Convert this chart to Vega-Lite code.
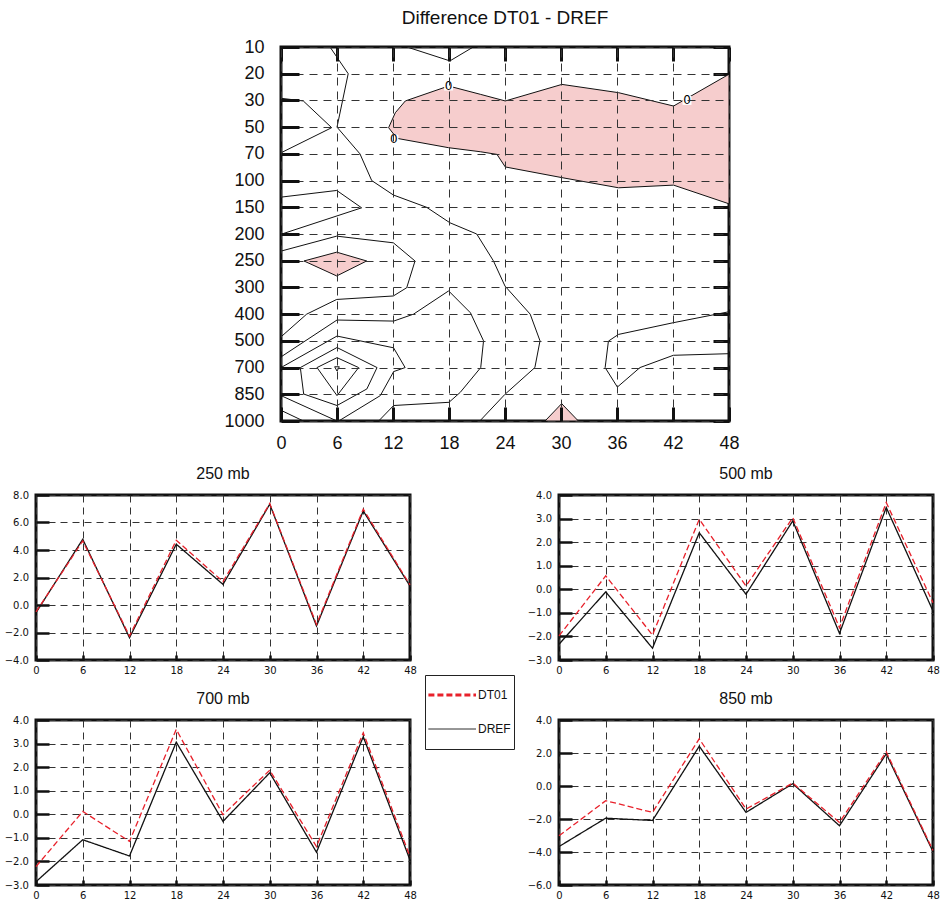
{
  "$schema": "https://vega.github.io/schema/vega-lite/v6.json",
  "background": "white",
  "padding": {"left": 2, "top": 7, "right": 5, "bottom": 5},
  "spacing": 10,
  "config": {
    "font": "Liberation Sans",
    "view": {"stroke": "#111", "strokeWidth": 3},
    "axis": {"domain": false, "labelColor": "#111", "tickColor": "#111", "labelFont": "Liberation Sans"},
    "title": {"font": "Liberation Sans", "fontWeight": "normal", "color": "#111"}
  },
  "datasets": {
    "contours": [
      {"c": "A", "o": 0, "h": 5.25, "p": 0}, {"c": "A", "o": 1, "h": 7.2, "p": 1.0}, {"c": "A", "o": 2, "h": 6.0, "p": 3.0}, {"c": "A", "o": 3, "h": 8.46, "p": 4.0}, {"c": "A", "o": 4, "h": 9.72, "p": 5.0}, {"c": "A", "o": 5, "h": 12.04, "p": 5.54}, {"c": "A", "o": 6, "h": 15.6, "p": 6.0}, {"c": "A", "o": 7, "h": 18.1, "p": 6.58}, {"c": "A", "o": 8, "h": 20.97, "p": 7.0}, {"c": "A", "o": 9, "h": 22.75, "p": 8.0}, {"c": "A", "o": 10, "h": 24.0, "p": 8.95}, {"c": "A", "o": 11, "h": 26.7, "p": 10.0}, {"c": "A", "o": 12, "h": 27.75, "p": 11.0}, {"c": "A", "o": 13, "h": 27.2, "p": 12.0}, {"c": "A", "o": 14, "h": 24.0, "p": 13.0}, {"c": "A", "o": 15, "h": 21.3, "p": 14.0},
      {"c": "B", "o": 0, "h": 13.5, "p": 0}, {"c": "B", "o": 1, "h": 18.1, "p": 0.52}, {"c": "B", "o": 2, "h": 20.6, "p": 0},
      {"c": "C", "o": 0, "h": 0, "p": 1.92}, {"c": "C", "o": 1, "h": 2.39, "p": 2.02}, {"c": "C", "o": 2, "h": 5.43, "p": 3.02}, {"c": "C", "o": 3, "h": 0, "p": 3.96},
      {"c": "D", "o": 0, "h": 0, "p": 5.62}, {"c": "D", "o": 1, "h": 5.97, "p": 5.37}, {"c": "D", "o": 2, "h": 8.64, "p": 6.02}, {"c": "D", "o": 3, "h": 0, "p": 7.01},
      {"c": "E", "o": 0, "h": 0, "p": 7.64}, {"c": "E", "o": 1, "h": 5.97, "p": 7.08}, {"c": "E", "o": 2, "h": 12.04, "p": 7.33}, {"c": "E", "o": 3, "h": 14.36, "p": 8.01}, {"c": "E", "o": 4, "h": 13.47, "p": 9.01}, {"c": "E", "o": 5, "h": 12.04, "p": 9.32}, {"c": "E", "o": 6, "h": 5.97, "p": 9.45}, {"c": "E", "o": 7, "h": 2.75, "p": 10.0}, {"c": "E", "o": 8, "h": 0, "p": 10.85},
      {"c": "F", "o": 0, "h": 0, "p": 11.6}, {"c": "F", "o": 1, "h": 6.0, "p": 10.22}, {"c": "F", "o": 2, "h": 12.07, "p": 10.26}, {"c": "F", "o": 3, "h": 14.2, "p": 10.0}, {"c": "F", "o": 4, "h": 17.96, "p": 9.13}, {"c": "F", "o": 5, "h": 20.3, "p": 9.95}, {"c": "F", "o": 6, "h": 21.7, "p": 11.0}, {"c": "F", "o": 7, "h": 21.4, "p": 12.0}, {"c": "F", "o": 8, "h": 19.2, "p": 12.93}, {"c": "F", "o": 9, "h": 18.0, "p": 13.3}, {"c": "F", "o": 10, "h": 12.07, "p": 13.42}, {"c": "F", "o": 11, "h": 10.46, "p": 14.0},
      {"c": "G", "o": 0, "h": 0, "p": 12.0}, {"c": "G", "o": 1, "h": 6.0, "p": 10.82}, {"c": "G", "o": 2, "h": 12.06, "p": 11.26}, {"c": "G", "o": 3, "h": 13.3, "p": 12.0}, {"c": "G", "o": 4, "h": 12.07, "p": 12.15}, {"c": "G", "o": 5, "h": 10.64, "p": 13.05}, {"c": "G", "o": 6, "h": 6.18, "p": 14.0},
      {"c": "R3", "o": 0, "h": 2.07, "p": 12.0}, {"c": "R3", "o": 1, "h": 6.0, "p": 11.25}, {"c": "R3", "o": 2, "h": 10.29, "p": 12.0}, {"c": "R3", "o": 3, "h": 9.2, "p": 12.8}, {"c": "R3", "o": 4, "h": 6.0, "p": 13.42}, {"c": "R3", "o": 5, "h": 2.43, "p": 12.99}, {"c": "R3", "o": 6, "h": 2.07, "p": 12.0},
      {"c": "S", "o": 0, "h": 0, "p": 12.0}, {"c": "S", "o": 1, "h": 2.07, "p": 12.0},
      {"c": "R2", "o": 0, "h": 3.86, "p": 12.0}, {"c": "R2", "o": 1, "h": 6.0, "p": 11.63}, {"c": "R2", "o": 2, "h": 8.32, "p": 12.0}, {"c": "R2", "o": 3, "h": 6.0, "p": 13.05}, {"c": "R2", "o": 4, "h": 3.86, "p": 12.0},
      {"c": "R1", "o": 0, "h": 5.75, "p": 11.97}, {"c": "R1", "o": 1, "h": 6.25, "p": 11.97}, {"c": "R1", "o": 2, "h": 6.0, "p": 12.13}, {"c": "R1", "o": 3, "h": 5.75, "p": 11.97},
      {"c": "H1", "o": 0, "h": 0, "p": 13.05}, {"c": "H1", "o": 1, "h": 6.0, "p": 14.0},
      {"c": "H2", "o": 0, "h": 0, "p": 13.6}, {"c": "H2", "o": 1, "h": 2.4, "p": 14.0},
      {"c": "I", "o": 0, "h": 48, "p": 9.91}, {"c": "I", "o": 1, "h": 42.04, "p": 10.32}, {"c": "I", "o": 2, "h": 36.15, "p": 10.76}, {"c": "I", "o": 3, "h": 35.08, "p": 11.01}, {"c": "I", "o": 4, "h": 34.73, "p": 12.0}, {"c": "I", "o": 5, "h": 36.04, "p": 12.73}, {"c": "I", "o": 6, "h": 38.46, "p": 12.0}, {"c": "I", "o": 7, "h": 42.04, "p": 11.54}, {"c": "I", "o": 8, "h": 48, "p": 11.48}
    ],
    "fills": [
      {"c": "P1", "o": 0, "h": 11.53, "p": 3.02}, {"c": "P1", "o": 1, "h": 12.25, "p": 2.46}, {"c": "P1", "o": 2, "h": 13.32, "p": 2.02}, {"c": "P1", "o": 3, "h": 17.96, "p": 1.46}, {"c": "P1", "o": 4, "h": 21.35, "p": 1.77}, {"c": "P1", "o": 5, "h": 24.03, "p": 2.02}, {"c": "P1", "o": 6, "h": 30.1, "p": 1.4}, {"c": "P1", "o": 7, "h": 36.17, "p": 1.71}, {"c": "P1", "o": 8, "h": 42.06, "p": 2.21}, {"c": "P1", "o": 9, "h": 48, "p": 1.02}, {"c": "P1", "o": 10, "h": 48, "p": 5.87}, {"c": "P1", "o": 11, "h": 42.06, "p": 5.17}, {"c": "P1", "o": 12, "h": 36.17, "p": 5.27}, {"c": "P1", "o": 13, "h": 30.1, "p": 4.89}, {"c": "P1", "o": 14, "h": 24.03, "p": 4.49}, {"c": "P1", "o": 15, "h": 23.14, "p": 4.02}, {"c": "P1", "o": 16, "h": 21.35, "p": 3.92}, {"c": "P1", "o": 17, "h": 17.96, "p": 3.77}, {"c": "P1", "o": 18, "h": 12.43, "p": 3.42}, {"c": "P1", "o": 19, "h": 11.53, "p": 3.02},
      {"c": "P2", "o": 0, "h": 2.46, "p": 8.01}, {"c": "P2", "o": 1, "h": 5.97, "p": 7.68}, {"c": "P2", "o": 2, "h": 9.18, "p": 8.01}, {"c": "P2", "o": 3, "h": 5.97, "p": 8.57}, {"c": "P2", "o": 4, "h": 2.46, "p": 8.01},
      {"c": "P3", "o": 0, "h": 28.29, "p": 14}, {"c": "P3", "o": 1, "h": 30.07, "p": 13.35}, {"c": "P3", "o": 2, "h": 31.86, "p": 14}, {"c": "P3", "o": 3, "h": 28.29, "p": 14}
    ],
    "zeros": [
      {"h": 17.96, "p": 1.46, "t": "0"}, {"h": 43.5, "p": 2.0, "t": "0"}, {"h": 12.1, "p": 3.45, "t": "0"}
    ],
    "lines": [
      {"panel": "250", "series": "DREF", "h": 0, "v": -0.56}, {"panel": "250", "series": "DREF", "h": 6, "v": 4.78}, {"panel": "250", "series": "DREF", "h": 12, "v": -2.38}, {"panel": "250", "series": "DREF", "h": 18, "v": 4.42}, {"panel": "250", "series": "DREF", "h": 24, "v": 1.5}, {"panel": "250", "series": "DREF", "h": 30, "v": 7.33}, {"panel": "250", "series": "DREF", "h": 36, "v": -1.53}, {"panel": "250", "series": "DREF", "h": 42, "v": 6.84}, {"panel": "250", "series": "DREF", "h": 48, "v": 1.38},
      {"panel": "250", "series": "DT01", "h": 0, "v": -0.5}, {"panel": "250", "series": "DT01", "h": 6, "v": 4.66}, {"panel": "250", "series": "DT01", "h": 12, "v": -2.26}, {"panel": "250", "series": "DT01", "h": 18, "v": 4.71}, {"panel": "250", "series": "DT01", "h": 24, "v": 1.7}, {"panel": "250", "series": "DT01", "h": 30, "v": 7.38}, {"panel": "250", "series": "DT01", "h": 36, "v": -1.41}, {"panel": "250", "series": "DT01", "h": 42, "v": 6.97}, {"panel": "250", "series": "DT01", "h": 48, "v": 1.46},
      {"panel": "500", "series": "DREF", "h": 0, "v": -2.33}, {"panel": "500", "series": "DREF", "h": 6, "v": -0.11}, {"panel": "500", "series": "DREF", "h": 12, "v": -2.5}, {"panel": "500", "series": "DREF", "h": 18, "v": 2.4}, {"panel": "500", "series": "DREF", "h": 24, "v": -0.21}, {"panel": "500", "series": "DREF", "h": 30, "v": 2.9}, {"panel": "500", "series": "DREF", "h": 36, "v": -1.87}, {"panel": "500", "series": "DREF", "h": 42, "v": 3.47}, {"panel": "500", "series": "DREF", "h": 48, "v": -0.92},
      {"panel": "500", "series": "DT01", "h": 0, "v": -1.98}, {"panel": "500", "series": "DT01", "h": 6, "v": 0.57}, {"panel": "500", "series": "DT01", "h": 12, "v": -1.94}, {"panel": "500", "series": "DT01", "h": 18, "v": 2.97}, {"panel": "500", "series": "DT01", "h": 24, "v": 0.14}, {"panel": "500", "series": "DT01", "h": 30, "v": 3.04}, {"panel": "500", "series": "DT01", "h": 36, "v": -1.63}, {"panel": "500", "series": "DT01", "h": 42, "v": 3.68}, {"panel": "500", "series": "DT01", "h": 48, "v": -0.57},
      {"panel": "700", "series": "DREF", "h": 0, "v": -2.86}, {"panel": "700", "series": "DREF", "h": 6, "v": -1.08}, {"panel": "700", "series": "DREF", "h": 12, "v": -1.77}, {"panel": "700", "series": "DREF", "h": 18, "v": 3.06}, {"panel": "700", "series": "DREF", "h": 24, "v": -0.3}, {"panel": "700", "series": "DREF", "h": 30, "v": 1.76}, {"panel": "700", "series": "DREF", "h": 36, "v": -1.61}, {"panel": "700", "series": "DREF", "h": 42, "v": 3.29}, {"panel": "700", "series": "DREF", "h": 48, "v": -1.94},
      {"panel": "700", "series": "DT01", "h": 0, "v": -2.22}, {"panel": "700", "series": "DT01", "h": 6, "v": 0.12}, {"panel": "700", "series": "DT01", "h": 12, "v": -1.15}, {"panel": "700", "series": "DT01", "h": 18, "v": 3.6}, {"panel": "700", "series": "DT01", "h": 24, "v": -0.02}, {"panel": "700", "series": "DT01", "h": 30, "v": 1.87}, {"panel": "700", "series": "DT01", "h": 36, "v": -1.37}, {"panel": "700", "series": "DT01", "h": 42, "v": 3.46}, {"panel": "700", "series": "DT01", "h": 48, "v": -1.8},
      {"panel": "850", "series": "DREF", "h": 0, "v": -3.67}, {"panel": "850", "series": "DREF", "h": 6, "v": -1.95}, {"panel": "850", "series": "DREF", "h": 12, "v": -2.09}, {"panel": "850", "series": "DREF", "h": 18, "v": 2.41}, {"panel": "850", "series": "DREF", "h": 24, "v": -1.6}, {"panel": "850", "series": "DREF", "h": 30, "v": 0.14}, {"panel": "850", "series": "DREF", "h": 36, "v": -2.41}, {"panel": "850", "series": "DREF", "h": 42, "v": 1.95}, {"panel": "850", "series": "DREF", "h": 48, "v": -3.98},
      {"panel": "850", "series": "DT01", "h": 0, "v": -3.02}, {"panel": "850", "series": "DT01", "h": 6, "v": -0.89}, {"panel": "850", "series": "DT01", "h": 12, "v": -1.6}, {"panel": "850", "series": "DT01", "h": 18, "v": 2.86}, {"panel": "850", "series": "DT01", "h": 24, "v": -1.4}, {"panel": "850", "series": "DT01", "h": 30, "v": 0.18}, {"panel": "850", "series": "DT01", "h": 36, "v": -2.21}, {"panel": "850", "series": "DT01", "h": 42, "v": 2.07}, {"panel": "850", "series": "DT01", "h": 48, "v": -3.91}
    ]
  },
  "vconcat": [
    {
      "spacing": 0,
      "hconcat": [
        {"width": 186, "height": 10, "view": {"stroke": null}, "data": {"values": []}, "mark": "point"},
        {
          "width": 448, "height": 374,
          "title": {"text": "Difference DT01 - DREF", "fontSize": 19, "frame": "group", "baseline": "alphabetic", "offset": -5},
          "layer": [
            {
              "data": {"name": "fills"},
              "mark": {"type": "line", "fill": "#f6cdcd", "stroke": "#111", "strokeWidth": 1},
              "encoding": {
                "x": {"field": "h", "type": "quantitative", "scale": {"domain": [0, 48], "nice": false, "zero": false},
                  "axis": {"orient": "bottom", "values": [0, 6, 12, 18, 24, 30, 36, 42, 48], "title": null, "labelFontSize": 18, "tickSize": -14, "tickWidth": 3, "labelPadding": 27, "labelFlush": false, "labelOverlap": false, "grid": true, "gridDash": [8, 6], "gridColor": "#333", "gridWidth": 1, "zindex": 1}},
                "y": {"field": "p", "type": "quantitative", "scale": {"domain": [0, 14], "nice": false, "zero": false, "reverse": true},
                  "axis": {"orient": "left", "values": [0, 1, 2, 3, 4, 5, 6, 7, 8, 9, 10, 11, 12, 13, 14], "labelExpr": "['10','20','30','50','70','100','150','200','250','300','400','500','700','850','1000'][datum.value]", "title": null, "labelFontSize": 18, "tickSize": -18, "tickWidth": 3, "labelPadding": 35, "labelOverlap": false, "labelFlush": false, "grid": true, "gridDash": [8, 6], "gridColor": "#333", "gridWidth": 1, "zindex": 1}},
                "detail": {"field": "c"},
                "order": {"field": "o", "type": "quantitative"}
              }
            },
            {
              "data": {"name": "contours"},
              "mark": {"type": "line", "stroke": "#111", "strokeWidth": 1},
              "encoding": {
                "x": {"field": "h", "type": "quantitative", "axis": {"orient": "top", "values": [0, 6, 12, 18, 24, 30, 36, 42, 48], "labels": false, "title": null, "tickSize": -14, "tickWidth": 3, "grid": false}},
                "y": {"field": "p", "type": "quantitative", "axis": {"orient": "right", "values": [0, 1, 2, 3, 4, 5, 6, 7, 8, 9, 10, 11, 12, 13, 14], "labels": false, "title": null, "tickSize": -16, "tickWidth": 3, "grid": false}},
                "detail": {"field": "c"},
                "order": {"field": "o", "type": "quantitative"}
              }
            },
            {
              "data": {"name": "zeros"},
              "mark": {"type": "square", "color": "white", "size": 80, "opacity": 1},
              "encoding": {
                "x": {"field": "h", "type": "quantitative", "axis": null},
                "y": {"field": "p", "type": "quantitative", "axis": null}
              }
            },
            {
              "data": {"name": "zeros"},
              "mark": {"type": "text", "fontSize": 12, "color": "#000", "font": "DejaVu Sans"},
              "encoding": {
                "x": {"field": "h", "type": "quantitative", "axis": null},
                "y": {"field": "p", "type": "quantitative", "axis": null},
                "text": {"field": "t"}
              }
            }
          ],
          "resolve": {"axis": {"x": "independent", "y": "independent"}}
        }
      ]
    },
    {
      "columns": 2,
      "spacing": {"row": 60, "column": 149},
      "bounds": "flush",
      "resolve": {"scale": {"color": "independent", "strokeDash": "independent"}, "legend": {"color": "independent", "strokeDash": "independent"}},
      "concat": [
        {
          "width": 374, "height": 165,
          "title": {"text": "250 mb", "fontSize": 16, "frame": "group", "baseline": "alphabetic", "offset": -5},
          "data": {"name": "lines"},
          "transform": [{"filter": "datum.panel === '250'"}],
          "mark": {"type": "line", "strokeWidth": 1.3},
          "encoding": {
            "x": {"field": "h", "type": "quantitative", "scale": {"domain": [0, 48], "nice": false}, "axis": {"values": [0, 6, 12, 18, 24, 30, 36, 42, 48], "title": null, "labelFont": "DejaVu Sans", "labelFontSize": 10, "tickSize": -5, "tickWidth": 2.5, "labelPadding": 10.5, "labelFlush": false, "labelOverlap": false, "grid": true, "gridDash": [7, 5], "gridColor": "#333"}},
            "y": {"field": "v", "type": "quantitative", "scale": {"domain": [-4, 8], "nice": false}, "axis": {"values": [-4, -2, 0, 2, 4, 6, 8], "format": ".1f", "title": null, "labelFont": "DejaVu Sans", "labelFontSize": 10, "tickSize": -13, "tickWidth": 2.5, "labelPadding": 20.5, "labelOverlap": false, "grid": true, "gridDash": [7, 5], "gridColor": "#333"}},
            "color": {"field": "series", "type": "nominal", "scale": {"domain": ["DT01", "DREF"], "range": ["#e8212b", "#111111"]},
              "legend": {"orient": "none", "legendX": 389, "legendY": 180, "title": null, "direction": "vertical", "symbolType": "M-0.4,0L3.0,0", "symbolSize": 784, "symbolStrokeWidth": 1, "clipHeight": 34, "rowPadding": 0, "labelOffset": 38, "labelFontSize": 12, "labelFont": "Liberation Sans", "labelColor": "#111", "strokeColor": "#222", "fillColor": "white", "padding": 3,
                "encode": {"symbols": {"update": {"strokeWidth": {"signal": "datum.value === 'DT01' ? 3 : 1"}, "strokeDash": {"signal": "datum.value === 'DT01' ? [20, 8] : [1, 0]"}}}}}},
            "strokeDash": {"field": "series", "type": "nominal", "scale": {"domain": ["DT01", "DREF"], "range": [[6, 3], [1, 0]]}, "legend": null}
          }
        },
        {
          "width": 374, "height": 165,
          "title": {"text": "500 mb", "fontSize": 16, "frame": "group", "baseline": "alphabetic", "offset": -5},
          "data": {"name": "lines"},
          "transform": [{"filter": "datum.panel === '500'"}],
          "mark": {"type": "line", "strokeWidth": 1.3},
          "encoding": {
            "x": {"field": "h", "type": "quantitative", "scale": {"domain": [0, 48], "nice": false}, "axis": {"values": [0, 6, 12, 18, 24, 30, 36, 42, 48], "title": null, "labelFont": "DejaVu Sans", "labelFontSize": 10, "tickSize": -5, "tickWidth": 2.5, "labelPadding": 10.5, "labelFlush": false, "labelOverlap": false, "grid": true, "gridDash": [7, 5], "gridColor": "#333"}},
            "y": {"field": "v", "type": "quantitative", "scale": {"domain": [-3, 4], "nice": false}, "axis": {"values": [-3, -2, -1, 0, 1, 2, 3, 4], "format": ".1f", "title": null, "labelFont": "DejaVu Sans", "labelFontSize": 10, "tickSize": -13, "tickWidth": 2.5, "labelPadding": 20.5, "labelOverlap": false, "grid": true, "gridDash": [7, 5], "gridColor": "#333"}},
            "color": {"field": "series", "type": "nominal", "scale": {"domain": ["DT01", "DREF"], "range": ["#e8212b", "#111111"]}, "legend": null},
            "strokeDash": {"field": "series", "type": "nominal", "scale": {"domain": ["DT01", "DREF"], "range": [[6, 3], [1, 0]]}, "legend": null}
          }
        },
        {
          "width": 374, "height": 165,
          "title": {"text": "700 mb", "fontSize": 16, "frame": "group", "baseline": "alphabetic", "offset": -5},
          "data": {"name": "lines"},
          "transform": [{"filter": "datum.panel === '700'"}],
          "mark": {"type": "line", "strokeWidth": 1.3},
          "encoding": {
            "x": {"field": "h", "type": "quantitative", "scale": {"domain": [0, 48], "nice": false}, "axis": {"values": [0, 6, 12, 18, 24, 30, 36, 42, 48], "title": null, "labelFont": "DejaVu Sans", "labelFontSize": 10, "tickSize": -5, "tickWidth": 2.5, "labelPadding": 10.5, "labelFlush": false, "labelOverlap": false, "grid": true, "gridDash": [7, 5], "gridColor": "#333"}},
            "y": {"field": "v", "type": "quantitative", "scale": {"domain": [-3, 4], "nice": false}, "axis": {"values": [-3, -2, -1, 0, 1, 2, 3, 4], "format": ".1f", "title": null, "labelFont": "DejaVu Sans", "labelFontSize": 10, "tickSize": -13, "tickWidth": 2.5, "labelPadding": 20.5, "labelOverlap": false, "grid": true, "gridDash": [7, 5], "gridColor": "#333"}},
            "color": {"field": "series", "type": "nominal", "scale": {"domain": ["DT01", "DREF"], "range": ["#e8212b", "#111111"]}, "legend": null},
            "strokeDash": {"field": "series", "type": "nominal", "scale": {"domain": ["DT01", "DREF"], "range": [[6, 3], [1, 0]]}, "legend": null}
          }
        },
        {
          "width": 374, "height": 165,
          "title": {"text": "850 mb", "fontSize": 16, "frame": "group", "baseline": "alphabetic", "offset": -5},
          "data": {"name": "lines"},
          "transform": [{"filter": "datum.panel === '850'"}],
          "mark": {"type": "line", "strokeWidth": 1.3},
          "encoding": {
            "x": {"field": "h", "type": "quantitative", "scale": {"domain": [0, 48], "nice": false}, "axis": {"values": [0, 6, 12, 18, 24, 30, 36, 42, 48], "title": null, "labelFont": "DejaVu Sans", "labelFontSize": 10, "tickSize": -5, "tickWidth": 2.5, "labelPadding": 10.5, "labelFlush": false, "labelOverlap": false, "grid": true, "gridDash": [7, 5], "gridColor": "#333"}},
            "y": {"field": "v", "type": "quantitative", "scale": {"domain": [-6, 4], "nice": false}, "axis": {"values": [-6, -4, -2, 0, 2, 4], "format": ".1f", "title": null, "labelFont": "DejaVu Sans", "labelFontSize": 10, "tickSize": -13, "tickWidth": 2.5, "labelPadding": 20.5, "labelOverlap": false, "grid": true, "gridDash": [7, 5], "gridColor": "#333"}},
            "color": {"field": "series", "type": "nominal", "scale": {"domain": ["DT01", "DREF"], "range": ["#e8212b", "#111111"]}, "legend": null},
            "strokeDash": {"field": "series", "type": "nominal", "scale": {"domain": ["DT01", "DREF"], "range": [[6, 3], [1, 0]]}, "legend": null}
          }
        }
      ]
    }
  ]
}
